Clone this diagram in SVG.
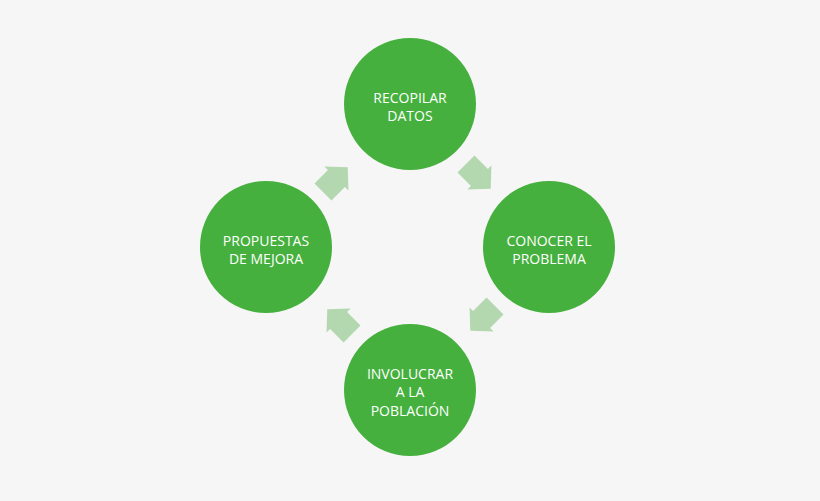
<svg xmlns="http://www.w3.org/2000/svg" width="820" height="501" viewBox="0 0 820 501">
<style>
.c{fill:#45b03d}
.t{fill:#fff;font-family:"Open Sans","Liberation Sans",sans-serif;font-size:14px;text-anchor:middle}
.a{fill:#b3d8b0}
</style>
<defs><path id="arr" d="M-17,-12 L2,-12 L2,-17 L18,0 L2,17 L2,12 L-17,12 Z"/></defs>
<rect width="820" height="501" fill="#f6f6f6"/>
<g id="connectors">
<use href="#arr" class="a" transform="translate(478,176) rotate(45)"/>
<use href="#arr" class="a" transform="translate(483,318) rotate(135)"/>
<use href="#arr" class="a" transform="translate(340,322) rotate(-135)"/>
<use href="#arr" class="a" transform="translate(335,180) rotate(-45)"/>
</g>
<g id="n1"><circle class="c" cx="410" cy="104" r="66"/><text class="t" x="410" y="103">RECOPILAR</text><text class="t" x="410" y="121">DATOS</text></g>
<g id="n2"><circle class="c" cx="549" cy="247" r="66"/><text class="t" x="549" y="246">CONOCER EL</text><text class="t" x="549" y="264">PROBLEMA</text></g>
<g id="n3"><circle class="c" cx="410" cy="390" r="66"/><text class="t" x="410" y="379">INVOLUCRAR</text><text class="t" x="410" y="397">A LA</text><text class="t" x="410" y="416">POBLACIÓN</text></g>
<g id="n4"><circle class="c" cx="266" cy="247" r="66"/><text class="t" x="266" y="246">PROPUESTAS</text><text class="t" x="266" y="264">DE MEJORA</text></g>
</svg>
